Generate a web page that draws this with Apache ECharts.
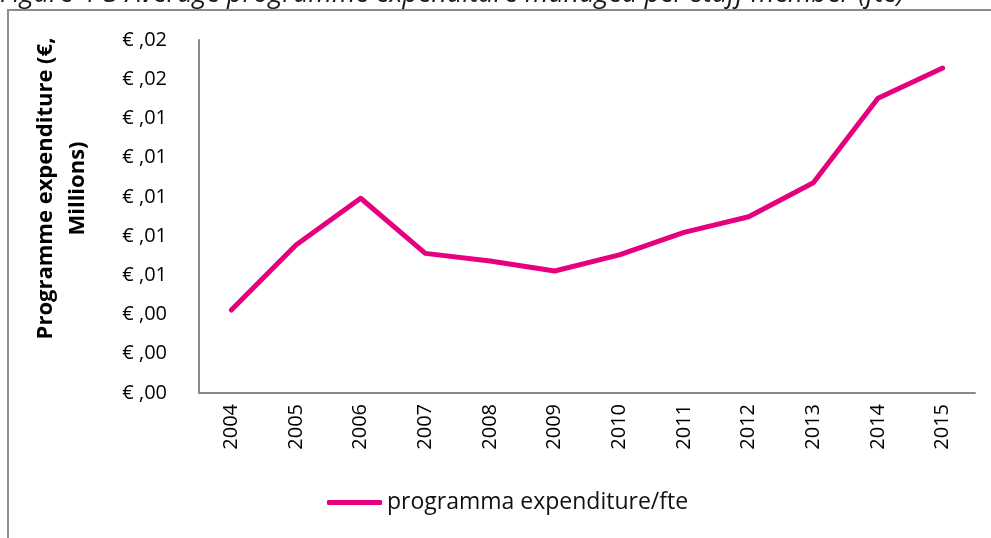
<!DOCTYPE html>
<html>
<head>
<meta charset="utf-8">
<script src="https://cdn.jsdelivr.net/npm/echarts@6/dist/echarts.min.js"></script>
<style>
html,body{margin:0;padding:0;background:#fff;}
#chart{width:991px;height:538px;}
</style>
</head>
<body>
<div id="chart"></div>
<script>
// ---- data ----
var years = ['2004','2005','2006','2007','2008','2009','2010','2011','2012','2013','2014','2015'];
var expenditurePerFte = [0.00423,0.00755,0.00993,0.00712,0.00673,0.00622,0.00704,0.00819,0.00899,0.01072,0.01503,0.01657];
var seriesName = 'programma expenditure/fte';
var yTickLabels = ['€ ,00','€ ,00','€ ,00','€ ,01','€ ,01','€ ,01','€ ,01','€ ,01','€ ,02','€ ,02'];
var yMin = 0, yMax = 0.018, yInterval = 0.002;
var chartTitle = 'Figure 4-3 Average programme expenditure managed per staff member (fte)';
var yAxisName = 'Programme expenditure (€,\nMillions)';

var FONT = '"Open Sans", sans-serif';
var AX = '#898989';
var chart = echarts.init(document.getElementById('chart'), null, {renderer:'canvas'});
chart.setOption({
  animation:false,
  backgroundColor:'#fff',
  textStyle:{fontFamily:FONT},
  title:{
    text:chartTitle, left:0, top:-19, padding:0,
    textStyle:{fontFamily:FONT, fontStyle:'italic', fontWeight:'normal', fontSize:27, color:'#1a1a1a'}
  },
  graphic:[{
    type:'rect', z:-10, silent:true,
    shape:{x:8, y:10, width:1100, height:700},
    style:{fill:'none', stroke:'#8c8c8c', lineWidth:2}
  }],
  grid:{left:199, right:16, top:40, bottom:145, containLabel:false},
  legend:{
    left:327, top:491, padding:0,
    itemWidth:55, itemHeight:5, itemGap:10,
    icon:'roundRect',
    textStyle:{fontFamily:FONT, fontSize:23, color:'#111', padding:[0,0,0,0]},
    data:[seriesName]
  },
  xAxis:{
    type:'category', data:years, boundaryGap:true,
    axisLine:{lineStyle:{color:AX, width:2}},
    axisTick:{alignWithLabel:true, length:7, lineStyle:{color:AX, width:2}},
    axisLabel:{rotate:90, margin:11, fontFamily:FONT, fontSize:20, color:'#000'}
  },
  yAxis:{
    type:'value', min:yMin, max:yMax, interval:yInterval,
    name:yAxisName, nameLocation:'middle', nameGap:105,
    nameTextStyle:{fontFamily:FONT, fontWeight:'bold', fontSize:22, lineHeight:32, color:'#000', padding:[0,0,0,56]},
    axisLine:{show:true, lineStyle:{color:AX, width:2}},
    axisTick:{show:false},
    splitLine:{show:false},
    axisLabel:{margin:32, fontFamily:FONT, fontSize:20, color:'#000',
      formatter:function(v){ return yTickLabels[Math.round((v - yMin)/yInterval)]; }}
  },
  series:[{
    name:seriesName, type:'line', data:expenditurePerFte,
    showSymbol:false, symbol:'none', smooth:false,
    lineStyle:{color:'#E6007E', width:5, cap:'round', join:'round'},
    itemStyle:{color:'#E6007E'}
  }]
});
</script>
</body>
</html>
